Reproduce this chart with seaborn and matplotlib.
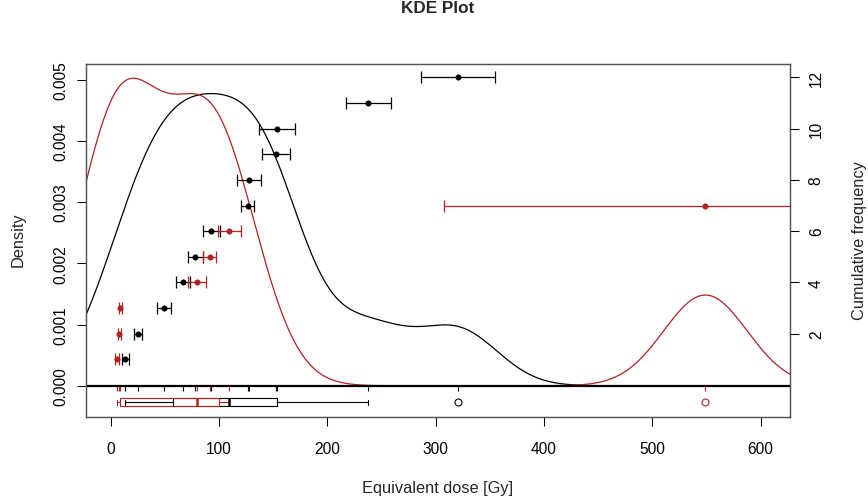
import numpy as np
import pandas as pd
import matplotlib
matplotlib.use("Agg")
import matplotlib.pyplot as plt
import seaborn as sns

# ---- data ----
de_black = [13.4, 25.4, 49.0, 66.7, 78.0, 92.9, 126.4, 127.8, 153.0, 153.9, 237.9, 320.7]
se_black = [3.1, 3.85, 6.3, 6.35, 7.0, 8.0, 6.0, 11.2, 12.9, 16.6, 20.6, 34.0]
de_red = [5.4, 8.1, 9.0, 79.7, 91.3, 109.5, 549.0]
se_red = [1.8, 1.5, 1.5, 8.6, 6.2, 10.6, 241.0]
x_ticks = [0, 100, 200, 300, 400, 500, 600]
dens_ticks = [0.000, 0.001, 0.002, 0.003, 0.004, 0.005]
dens_labels = ["0.000", "0.001", "0.002", "0.003", "0.004", "0.005"]
cum_ticks = [2, 4, 6, 8, 10, 12]

COL_BLACK = "black"
COL_RED = "#B22222"

sns.set_style("white")
plt.rcParams["font.family"] = ["Liberation Sans", "DejaVu Sans"]

fig = plt.figure(figsize=(8.68, 5.02), dpi=100)
ax = fig.add_axes([85.7 / 868, 1 - 418 / 502, (790 - 85.7) / 868, (418 - 65) / 502])
ax2 = ax.twinx()


def bw_nrd0(x):
    x = np.asarray(x, float)
    sd = np.std(x, ddof=1)
    iqr = np.subtract(*np.percentile(x, [75, 25]))
    return 0.9 * min(sd, iqr / 1.34) * len(x) ** (-0.2)


def fivenum(x):
    x = np.sort(np.asarray(x, float))
    n = len(x)
    n4 = np.floor((n + 3) / 2) / 2
    d = np.array([1, n4, (n + 1) / 2, n + 1 - n4, n]) - 1
    return 0.5 * (x[np.floor(d).astype(int)] + x[np.ceil(d).astype(int)])


datasets = [(de_black, se_black, COL_BLACK, 1.0), (de_red, se_red, COL_RED, 0.92)]

# ---- KDE curves ----
for de, se, col, adj in datasets:
    de = np.asarray(de)
    factor = bw_nrd0(de) / np.std(de, ddof=1)
    sns.kdeplot(x=de, ax=ax, bw_method=factor, bw_adjust=adj, cut=14,
                gridsize=3000, color=col, linewidth=0.9)

ax.axhline(0, color="black", lw=1.6, zorder=3)

# ---- rug ticks and boxplots below zero ----
px = 0.001 / 61.34
for de, se, col, adj in datasets:
    ax.vlines(de, -5 * px, 0, color=col, lw=0.8, zorder=2)

for de, se, col, adj in datasets:
    mn, q1, med, q3, mx = fivenum(de)
    iqr = q3 - q1
    arr = np.asarray(de)
    inside = arr[(arr >= q1 - 1.5 * iqr) & (arr <= q3 + 1.5 * iqr)]
    fliers = arr[(arr < q1 - 1.5 * iqr) | (arr > q3 + 1.5 * iqr)]
    stats = [dict(med=med, q1=q1, q3=q3, whislo=inside.min(), whishi=inside.max(),
                  fliers=fliers)]
    ax.bxp(stats, positions=[-16.6 * px], widths=[8 * px], vert=False,
           capwidths=[5 * px], manage_ticks=False, patch_artist=False,
           boxprops=dict(color=col, lw=0.8),
           whiskerprops=dict(color=col, lw=0.8),
           capprops=dict(color=col, lw=0.8),
           medianprops=dict(color=col, lw=1.8),
           flierprops=dict(marker="o", markersize=5, markerfacecolor="none",
                           markeredgecolor=col, markeredgewidth=0.8))

# ---- points with error bars on cumulative-frequency axis ----
for de, se, col, adj in datasets:
    order = np.argsort(de)
    d = np.asarray(de)[order]
    s = np.asarray(se)[order]
    rank = np.arange(1, len(d) + 1)
    df = pd.DataFrame({"De": d, "rank": rank})
    ax2.errorbar(d, rank, xerr=s, fmt="none", ecolor=col, elinewidth=0.9,
                 capsize=4.3, capthick=0.9)
    sns.scatterplot(data=df, x="De", y="rank", ax=ax2, color=col, s=16,
                    edgecolor=col, linewidth=0.3, zorder=5, legend=False)

# ---- axes limits, ticks, labels ----
ax.set_xlim(-23.1, 627.1)
ax.set_ylim(-0.000510, 0.005255)
ax2.set_ylim(-1.25, 12.52)

ax.set_xticks(x_ticks)
ax.set_xticklabels([str(t) for t in x_ticks])
ax.set_yticks(dens_ticks)
ax.set_yticklabels(dens_labels)
ax2.set_yticks(cum_ticks)
ax2.set_yticklabels([str(t) for t in cum_ticks])

for a in (ax, ax2):
    a.tick_params(direction="out", length=6.5, width=0.75, colors="black",
                  labelsize=11.2)
    for sp in a.spines.values():
        sp.set_color("#555555")
        sp.set_linewidth(0.9)
ax.tick_params(axis="x", pad=10.5, bottom=True)
ax.tick_params(axis="y", pad=6, left=True)
ax2.tick_params(axis="y", pad=7, right=True)
for lab in ax.get_yticklabels():
    lab.set_rotation(90)
    lab.set_va("center")
for lab in ax2.get_yticklabels():
    lab.set_rotation(90)
    lab.set_va("center")

ax.set_xlabel("Equivalent dose [Gy]", fontsize=11.8)
ax.xaxis.set_label_coords(0.5, -0.201)
ax.xaxis.label.set_va("center")
ax.set_ylabel("Density", fontsize=11.8)
ax.yaxis.set_label_coords(-0.0961, 0.504)
ax.yaxis.label.set_va("center")
ax2.set_ylabel("Cumulative frequency", fontsize=11.8, rotation=90)
ax2.yaxis.set_label_coords(1.098, 0.504)
ax2.yaxis.label.set_va("center")

ax.set_title("KDE Plot", fontsize=12.3, fontweight="bold", y=1.137, va="center")

fig.savefig("out.png", dpi=100)
